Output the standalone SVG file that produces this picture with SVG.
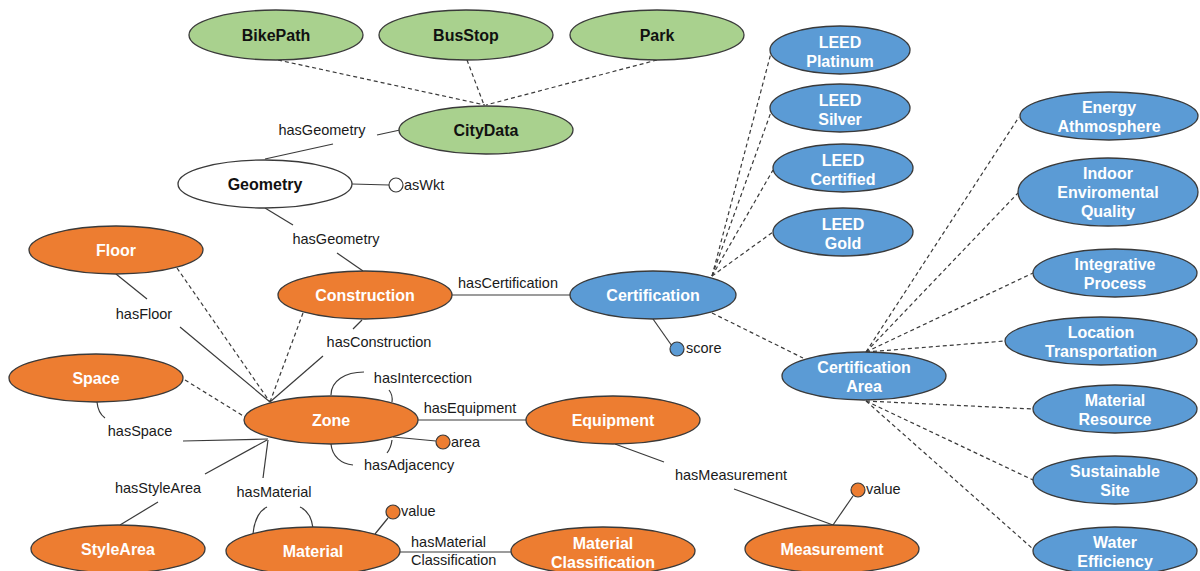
<svg xmlns="http://www.w3.org/2000/svg" width="1200" height="571" viewBox="0 0 1200 571">
<style>
.n ellipse{stroke:#3a3a3a;stroke-width:1.3}
.g ellipse{fill:#a9d18e}
.w ellipse{fill:#ffffff}
.o ellipse{fill:#ed7d31}
.b ellipse{fill:#5b9bd5}
.n text{font-family:"Liberation Sans",Arial,sans-serif;font-weight:bold;font-size:16px;text-anchor:middle}
.g text,.w text{fill:#111}
.o text,.b text{fill:#ffffff}
.s{stroke:#3a3a3a;stroke-width:1.2;fill:none}
.d{stroke:#3a3a3a;stroke-width:1.2;fill:none;stroke-dasharray:4 3}
.l{font-family:"Liberation Sans",Arial,sans-serif;font-size:14.5px;fill:#1a1a1a}
.c{text-anchor:middle}
.p{stroke:#3a3a3a;stroke-width:1.2}
</style>
<rect width="1200" height="571" fill="#ffffff"/>
<g id="connectors">
  <line class="d" x1="278" y1="60" x2="485" y2="105"/>
  <line class="d" x1="467" y1="60" x2="484" y2="105"/>
  <line class="d" x1="657" y1="60" x2="486" y2="105"/>
  <line class="d" x1="177" y1="268" x2="270" y2="402"/>
  <line class="d" x1="303" y1="313" x2="270" y2="402"/>
  <line class="d" x1="185" y1="380" x2="245" y2="417"/>
  <line class="d" x1="712" y1="313" x2="803" y2="358"/>
  <line class="d" x1="712" y1="276" x2="771" y2="53"/>
  <line class="d" x1="712" y1="276" x2="771" y2="112"/>
  <line class="d" x1="712" y1="276" x2="773" y2="170"/>
  <line class="d" x1="712" y1="276" x2="773" y2="232"/>
  <line class="d" x1="866" y1="352" x2="1019" y2="117"/>
  <line class="d" x1="866" y1="352" x2="1018" y2="193"/>
  <line class="d" x1="866" y1="352" x2="1033" y2="273"/>
  <line class="d" x1="866" y1="352" x2="1005" y2="341"/>
  <line class="d" x1="866" y1="401" x2="1033" y2="409"/>
  <line class="d" x1="866" y1="401" x2="1033" y2="480"/>
  <line class="d" x1="866" y1="401" x2="1033" y2="549"/>

  <line class="s" x1="377" y1="135" x2="400" y2="130"/>
  <line class="s" x1="333" y1="144" x2="265" y2="159"/>
  <text class="l c" x="322" y="135">hasGeometry</text>

  <line class="s" x1="352" y1="184" x2="389" y2="185"/>
  <circle cx="396" cy="185" r="7" fill="#ffffff" class="p"/>
  <text class="l" x="404" y="190">asWkt</text>

  <line class="s" x1="265" y1="208" x2="293" y2="225"/>
  <line class="s" x1="337" y1="253" x2="363" y2="271"/>
  <text class="l c" x="336" y="244">hasGeometry</text>

  <line class="s" x1="116" y1="274" x2="147" y2="299"/>
  <line class="s" x1="180" y1="327" x2="270" y2="402"/>
  <text class="l c" x="144" y="319">hasFloor</text>

  <line class="s" x1="362" y1="320" x2="353" y2="329"/>
  <line class="s" x1="323" y1="356" x2="270" y2="402"/>
  <text class="l c" x="379" y="347">hasConstruction</text>

  <line class="s" x1="452" y1="295" x2="571" y2="295"/>
  <text class="l c" x="508" y="288">hasCertification</text>

  <line class="s" x1="653" y1="319" x2="672" y2="346"/>
  <circle cx="677" cy="349" r="7" fill="#5b9bd5" class="p"/>
  <text class="l" x="686" y="353">score</text>

  <path class="s" d="M331,395 C331,381 345,372 364,372"/>
  <path class="s" d="M389,390 Q393,395 392,402"/>
  <text class="l c" x="423" y="383">hasIntercection</text>

  <line class="s" x1="418" y1="420" x2="526" y2="420"/>
  <text class="l c" x="470" y="413">hasEquipment</text>

  <line class="s" x1="393" y1="437" x2="436" y2="441"/>
  <circle cx="443" cy="442" r="7" fill="#ed7d31" class="p"/>
  <text class="l" x="451" y="447">area</text>

  <path class="s" d="M331,444 C332,456 341,464 353,465"/>
  <path class="s" d="M387,453 Q391,448 392,440"/>
  <text class="l" x="364" y="470">hasAdjacency</text>

  <path class="s" d="M97,402 Q98,413 105,418"/>
  <line class="s" x1="183" y1="441" x2="268" y2="439"/>
  <text class="l c" x="140" y="436">hasSpace</text>

  <line class="s" x1="205" y1="474" x2="267" y2="440"/>
  <line class="s" x1="158" y1="502" x2="120" y2="525"/>
  <text class="l c" x="158" y="493">hasStyleArea</text>

  <line class="s" x1="263" y1="478" x2="268" y2="440"/>
  <path class="s" d="M253,534 Q255,513 267,507"/>
  <path class="s" d="M300,507 Q311,512 313,528"/>
  <text class="l c" x="274" y="497">hasMaterial</text>

  <line class="s" x1="375" y1="534" x2="388" y2="518"/>
  <circle cx="393" cy="512" r="7" fill="#ed7d31" class="p"/>
  <text class="l" x="401" y="516">value</text>

  <line class="s" x1="400" y1="552" x2="511" y2="552"/>
  <text class="l" x="411" y="547">hasMaterial</text>
  <text class="l" x="411" y="565">Classification</text>

  <line class="s" x1="615" y1="444" x2="664" y2="462"/>
  <line class="s" x1="734" y1="489" x2="833" y2="525"/>
  <text class="l c" x="731" y="480">hasMeasurement</text>

  <line class="s" x1="833" y1="525" x2="853" y2="496"/>
  <circle cx="858" cy="490" r="7" fill="#ed7d31" class="p"/>
  <text class="l" x="866" y="494">value</text>
</g>

<g id="bikepath" class="n g"><ellipse cx="276" cy="35" rx="87" ry="25"/><text x="276" y="41">BikePath</text></g>
<g id="busstop" class="n g"><ellipse cx="466" cy="35" rx="87" ry="25"/><text x="466" y="41">BusStop</text></g>
<g id="park" class="n g"><ellipse cx="657" cy="35" rx="87" ry="25"/><text x="657" y="41">Park</text></g>
<g id="citydata" class="n g"><ellipse cx="486" cy="130" rx="87" ry="24"/><text x="486" y="136">CityData</text></g>
<g id="geometry" class="n w"><ellipse cx="265" cy="184" rx="87" ry="24"/><text x="265" y="190">Geometry</text></g>

<g id="floor" class="n o"><ellipse cx="116" cy="250" rx="87" ry="24"/><text x="116" y="256">Floor</text></g>
<g id="construction" class="n o"><ellipse cx="365" cy="295" rx="87" ry="24"/><text x="365" y="301">Construction</text></g>
<g id="space" class="n o"><ellipse cx="96" cy="378" rx="87" ry="24"/><text x="96" y="384">Space</text></g>
<g id="zone" class="n o"><ellipse cx="331" cy="420" rx="87" ry="24"/><text x="331" y="426">Zone</text></g>
<g id="equipment" class="n o"><ellipse cx="613" cy="420" rx="87" ry="24"/><text x="613" y="426">Equipment</text></g>
<g id="stylearea" class="n o"><ellipse cx="118" cy="549" rx="87" ry="24"/><text x="118" y="555">StyleArea</text></g>
<g id="material" class="n o"><ellipse cx="313" cy="551" rx="87" ry="24"/><text x="313" y="557">Material</text></g>
<g id="materialclassification" class="n o"><ellipse cx="603" cy="551" rx="92" ry="24"/><text x="603" y="549">Material</text><text x="603" y="568">Classification</text></g>
<g id="measurement" class="n o"><ellipse cx="832" cy="549" rx="87" ry="24"/><text x="832" y="555">Measurement</text></g>

<g id="certification" class="n b"><ellipse cx="653" cy="295" rx="83" ry="24"/><text x="653" y="301">Certification</text></g>
<g id="certificationarea" class="n b"><ellipse cx="864" cy="376" rx="82" ry="24"/><text x="864" y="373">Certification</text><text x="864" y="392">Area</text></g>

<g id="leedplatinum" class="n b"><ellipse cx="840" cy="50" rx="70" ry="24"/><text x="840" y="48">LEED</text><text x="840" y="67">Platinum</text></g>
<g id="leedsilver" class="n b"><ellipse cx="840" cy="108" rx="70" ry="24"/><text x="840" y="106">LEED</text><text x="840" y="125">Silver</text></g>
<g id="leedcertified" class="n b"><ellipse cx="843" cy="168" rx="70" ry="24"/><text x="843" y="166">LEED</text><text x="843" y="185">Certified</text></g>
<g id="leedgold" class="n b"><ellipse cx="843" cy="232" rx="70" ry="24"/><text x="843" y="230">LEED</text><text x="843" y="249">Gold</text></g>

<g id="energyathmosphere" class="n b"><ellipse cx="1109" cy="116" rx="89" ry="24"/><text x="1109" y="113">Energy</text><text x="1109" y="132">Athmosphere</text></g>
<g id="indoorenviromentalquality" class="n b"><ellipse cx="1108" cy="192" rx="90" ry="34"/><text x="1108" y="179">Indoor</text><text x="1108" y="198">Enviromental</text><text x="1108" y="217">Quality</text></g>
<g id="integrativeprocess" class="n b"><ellipse cx="1115" cy="273" rx="82" ry="24"/><text x="1115" y="270">Integrative</text><text x="1115" y="289">Process</text></g>
<g id="locationtransportation" class="n b"><ellipse cx="1101" cy="341" rx="96" ry="24"/><text x="1101" y="338">Location</text><text x="1101" y="357">Transportation</text></g>
<g id="materialresource" class="n b"><ellipse cx="1115" cy="409" rx="82" ry="24"/><text x="1115" y="406">Material</text><text x="1115" y="425">Resource</text></g>
<g id="sustainablesite" class="n b"><ellipse cx="1115" cy="480" rx="82" ry="24"/><text x="1115" y="477">Sustainable</text><text x="1115" y="496">Site</text></g>
<g id="waterefficiency" class="n b"><ellipse cx="1115" cy="551" rx="82" ry="24"/><text x="1115" y="548">Water</text><text x="1115" y="567">Efficiency</text></g>
</svg>
